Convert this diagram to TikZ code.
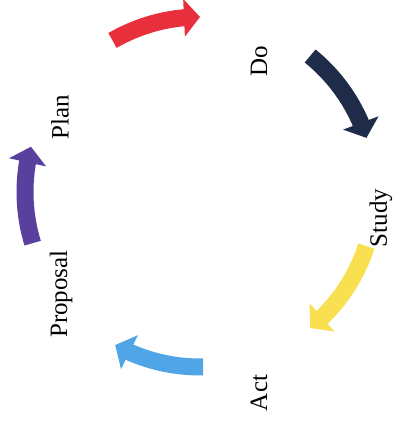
\documentclass[tikz,border=0pt]{standalone}
\usepackage{fontspec}
\setmainfont{Liberation Serif}
\usetikzlibrary{arrows.meta,bending}
\definecolor{cred}{RGB}{232,48,60}
\definecolor{cnavy}{RGB}{30,44,74}
\definecolor{cyellow}{RGB}{248,224,80}
\definecolor{cblue}{RGB}{80,165,230}
\definecolor{cpurple}{RGB}{90,64,158}
\tikzset{
  cyclearrow/.style={line width=17pt, -{Triangle[width=37pt,length=16pt,flex]}},
  lbl/.style={rotate=90, font=\fontsize{25}{27}\selectfont, inner sep=0pt}
}
\begin{document}
\begin{tikzpicture}[x=1pt,y=1pt]
\useasboundingbox (0,0) rectangle (393,425);
\coordinate (C) at (200,233);
\def\R{175}
\draw[cyclearrow, cred] ([shift={(120:\R)}]C) arc[start angle=120, end angle=90, radius=\R];
\draw[cyclearrow, cnavy] ([shift={(51:\R)}]C) arc[start angle=51, end angle=18, radius=\R];
\draw[cyclearrow, cyellow] ([shift={(-18:\R)}]C) arc[start angle=-18, end angle=-51, radius=\R];
\draw[cyclearrow, cblue] ([shift={(-89:\R)}]C) arc[start angle=-89, end angle=-119, radius=\R];
\draw[cyclearrow, cpurple] ([shift={(197:\R)}]C) arc[start angle=197, end angle=165, radius=\R];
\node[lbl] (plan) at (60,308) {Plan};
\node[lbl] (do) at (259,364) {Do};
\node[lbl] (study) at (381,207) {Study};
\node[lbl] (act) at (259,32) {Act};
\node[lbl] (proposal) at (61,131) {Proposal};
\end{tikzpicture}
\end{document}
